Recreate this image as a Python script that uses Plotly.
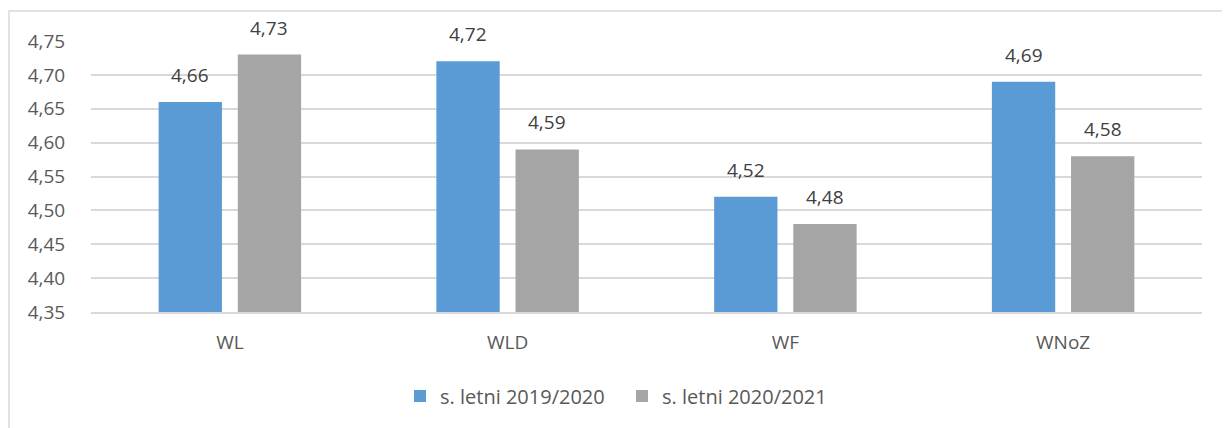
import plotly.graph_objects as go

categories = ["WL", "WLD", "WF", "WNoZ"]
series_names = ["s. letni 2019/2020", "s. letni 2020/2021"]
values_2019 = [4.66, 4.72, 4.52, 4.69]
values_2020 = [4.73, 4.59, 4.48, 4.58]
y_ticks = [4.35, 4.40, 4.45, 4.50, 4.55, 4.60, 4.65, 4.70, 4.75]
colors = ["#5B9BD5", "#A5A5A5"]

FONT = "Open Sans"
TXT = "#595959"
fs = 19

# page has an 8px body margin; work in reference-pixel coordinates
OFF = 8
W, H = 1230 - OFF, 428 - OFF
ml, mr, mt, mb = 91 - OFF, 28, 41 - OFF, 116
pw, ph = W - ml - mr, H - mt - mb
BARGAP = 0.43

def px(x):
    return (x - OFF - ml) / pw

def py(y):
    return (H - mb - (y - OFF)) / ph

fig = go.Figure()
for name, vals, col in [(series_names[0], values_2019, colors[0]),
                        (series_names[1], values_2020, colors[1])]:
    fig.add_trace(go.Bar(x=categories, y=vals, name=name,
                         marker=dict(color=col, line=dict(width=0))))

# value labels placed above bars
slot = pw / len(categories) * (1 - BARGAP) / 2
annotations = []
for i, vals in enumerate([values_2019, values_2020]):
    shift = -slot / 2 if i == 0 else slot / 2
    for c, v in zip(categories, vals):
        annotations.append(dict(x=c, y=v, xref="x", yref="y", text=f"{v:.2f}".replace(".", ","),
                                showarrow=False, yanchor="bottom", xanchor="center",
                                xshift=shift, yshift=12,
                                font=dict(family=FONT, size=fs, color="#404040")))

fig.update_layout(
    width=W, height=H,
    margin=dict(l=ml, r=mr, t=mt, b=mb),
    paper_bgcolor="white", plot_bgcolor="white",
    separators=", ",
    barmode="group", bargap=BARGAP, bargroupgap=0.2,
    font=dict(family=FONT, size=fs, color=TXT),
    showlegend=True,
    legend=dict(orientation="h", x=px(400), xanchor="left", y=py(396), yanchor="middle",
                font=dict(family=FONT, size=20, color=TXT),
                traceorder="normal", entrywidth=177),
    annotations=annotations,
    shapes=[dict(type="rect", xref="paper", yref="paper",
                 x0=px(9), x1=px(1245), y0=py(445), y1=py(11),
                 line=dict(color="#D9D9D9", width=1.5), fillcolor="rgba(0,0,0,0)", layer="below")],
)
fig.update_yaxes(range=[4.35, 4.75], tickvals=y_ticks, tickformat=".2f",
                 showgrid=True, gridcolor="#D9D9D9", gridwidth=1.5, zeroline=False,
                 showline=False, ticks="outside", ticklen=21, tickcolor="rgba(0,0,0,0)",
                 tickfont=dict(family=FONT, size=fs, color=TXT))
fig.update_xaxes(showline=True, linecolor="#D9D9D9", linewidth=1.5,
                 ticks="outside", ticklen=12, tickcolor="rgba(0,0,0,0)",
                 tickfont=dict(family=FONT, size=fs, color=TXT))

fig.write_html("out.html")
